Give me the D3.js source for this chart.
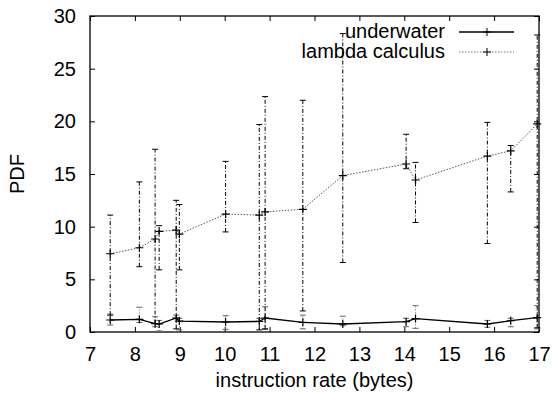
<!DOCTYPE html>
<html>
<head>
<meta charset="utf-8">
<script src="https://cdn.jsdelivr.net/npm/d3@7"></script>
<style>
  body { margin: 0; background: #fff; }
  text { font-family: "Liberation Sans", Arial, sans-serif; fill: #000; }
</style>
</head>
<body>
<div id="chart"></div>
<script>
// instruction rate (bytes)
const xVals = [7.45, 8.10, 8.45, 8.54, 8.92, 8.99, 10.02, 10.77, 10.90, 11.74, 12.63, 14.04, 14.25, 15.85, 16.37, 16.96];

// lambda calculus: value, error low, error high
const lambdaY    = [7.43, 8.0, 8.83, 9.55, 9.68, 9.3, 11.2, 11.1, 11.4, 11.65, 14.85, 15.95, 14.43, 16.7, 17.2, 19.75];
const lambdaLow  = [1.6, 6.2, 0.8, 5.9, 0.3, 5.9, 9.5, 0.2, 0.3, 2.0, 6.6, 15.5, 10.4, 8.4, 13.3, 0.4];
const lambdaHigh = [11.1, 14.25, 17.35, 10.1, 12.5, 12.1, 16.2, 19.7, 22.35, 22.0, 28.33, 18.77, 16.1, 19.9, 17.7, 28.2];

// underwater: value, error low, error high
const underY    = [1.14, 1.2, 0.79, 0.76, 1.33, 1.04, 0.95, 1.0, 1.33, 0.92, 0.76, 0.98, 1.27, 0.76, 1.07, 1.36];
const underLow  = [0.66, 0.9, 0.5, 0.1, 0.05, 0.2, 0.25, 0.0, 0.25, 0.3, 0.6, 0.5, 0.35, 0.45, 0.5, 0.3];
const underHigh = [1.7, 2.35, 1.45, 1.1, 1.6, 1.3, 1.55, 1.3, 2.4, 1.6, 1.5, 1.3, 2.5, 1.1, 1.3, 2.5];

const xTicks = [7, 8, 9, 10, 11, 12, 13, 14, 15, 16, 17];
const yTicks = [0, 5, 10, 15, 20, 25, 30];

const W = 554, H = 394;
const margin = {top: 16, right: 15, bottom: 62, left: 90};
const width = W - margin.left - margin.right;
const height = H - margin.top - margin.bottom;
const fs = 20;

const svg = d3.select("#chart").append("svg")
    .attr("width", W)
    .attr("height", H);

const g = svg.append("g")
    .attr("transform", "translate(" + margin.left + "," + margin.top + ")");

const x = d3.scaleLinear().domain([7, 17]).range([0, width]);
const y = d3.scaleLinear().domain([0, 30]).range([height, 0]);

// axes with inward ticks on all four sides
const tickLen = 5;
g.append("g")
    .attr("transform", "translate(0," + height + ")")
    .call(d3.axisBottom(x).tickValues(xTicks).tickSizeInner(-tickLen).tickSizeOuter(0).tickPadding(15))
    .call(a => a.select(".domain").remove())
    .call(a => a.selectAll("text").attr("font-size", fs));
g.append("g")
    .call(d3.axisTop(x).tickValues(xTicks).tickSizeInner(-tickLen).tickSizeOuter(0).tickFormat(""))
    .call(a => a.select(".domain").remove());
g.append("g")
    .call(d3.axisLeft(y).tickValues(yTicks).tickSizeInner(-tickLen).tickSizeOuter(0).tickPadding(14))
    .call(a => a.select(".domain").remove())
    .call(a => a.selectAll("text").attr("font-size", fs));
g.append("g")
    .attr("transform", "translate(" + width + ",0)")
    .call(d3.axisRight(y).tickValues(yTicks).tickSizeInner(-tickLen).tickSizeOuter(0).tickFormat(""))
    .call(a => a.select(".domain").remove());

g.append("rect")
    .attr("width", width).attr("height", height)
    .attr("fill", "none").attr("stroke", "#000").attr("stroke-width", 1.3);

// axis labels
svg.append("text")
    .attr("x", margin.left + width / 2).attr("y", 387)
    .attr("text-anchor", "middle").attr("font-size", fs)
    .text("instruction rate (bytes)");
svg.append("text")
    .attr("transform", "translate(24," + (margin.top + height / 2) + ") rotate(-90)")
    .attr("text-anchor", "middle").attr("font-size", fs)
    .text("PDF");

function drawSeries(ys, lo, hi, lineStyle, barStyle) {
    const pts = xVals.map((v, i) => ({x: v, y: ys[i], lo: lo[i], hi: hi[i]}));
    const cap = 3;
    const bars = g.append("g");
    pts.forEach(d => {
        bars.append("line")
            .attr("x1", x(d.x)).attr("x2", x(d.x))
            .attr("y1", y(d.lo)).attr("y2", y(d.hi))
            .attr("stroke", barStyle.color).attr("stroke-width", 1)
            .attr("stroke-dasharray", barStyle.dash);
        [d.lo, d.hi].forEach(v => {
            bars.append("line")
                .attr("x1", x(d.x) - cap).attr("x2", x(d.x) + cap)
                .attr("y1", y(v)).attr("y2", y(v))
                .attr("stroke", barStyle.color).attr("stroke-width", 1);
        });
    });
    g.append("path")
        .datum(pts)
        .attr("fill", "none")
        .attr("stroke", lineStyle.color)
        .attr("stroke-width", lineStyle.width)
        .attr("stroke-dasharray", lineStyle.dash)
        .attr("d", d3.line().x(d => x(d.x)).y(d => y(d.y)));
    const m = 4;
    g.append("g").selectAll("path")
        .data(pts).enter().append("path")
        .attr("d", d => "M" + (x(d.x) - m) + "," + y(d.y) + "h" + 2 * m +
            "M" + x(d.x) + "," + (y(d.y) - m) + "v" + 2 * m)
        .attr("stroke", "#000").attr("stroke-width", 1.2);
}

drawSeries(underY, underLow, underHigh,
    {color: "#000", width: 1.3, dash: null},
    {color: "#666", dash: "1,2"});
drawSeries(lambdaY, lambdaLow, lambdaHigh,
    {color: "#555", width: 1, dash: "1.5,1.5"},
    {color: "#000", dash: "4,2,1,2"});

// legend
const legend = [
    {label: "underwater", color: "#000", width: 1.3, dash: null, yy: 32},
    {label: "lambda calculus", color: "#777", width: 1, dash: "1.5,1.5", yy: 52}
];
legend.forEach(l => {
    svg.append("text")
        .attr("x", 445).attr("y", l.yy + 6)
        .attr("text-anchor", "end").attr("font-size", fs)
        .text(l.label);
    svg.append("line")
        .attr("x1", 459).attr("x2", 514).attr("y1", l.yy).attr("y2", l.yy)
        .attr("stroke", l.color).attr("stroke-width", l.width)
        .attr("stroke-dasharray", l.dash);
    svg.append("path")
        .attr("d", "M" + 483 + "," + l.yy + "h8M487," + (l.yy - 4) + "v8")
        .attr("stroke", "#000").attr("stroke-width", 1);
});
</script>
</body>
</html>
